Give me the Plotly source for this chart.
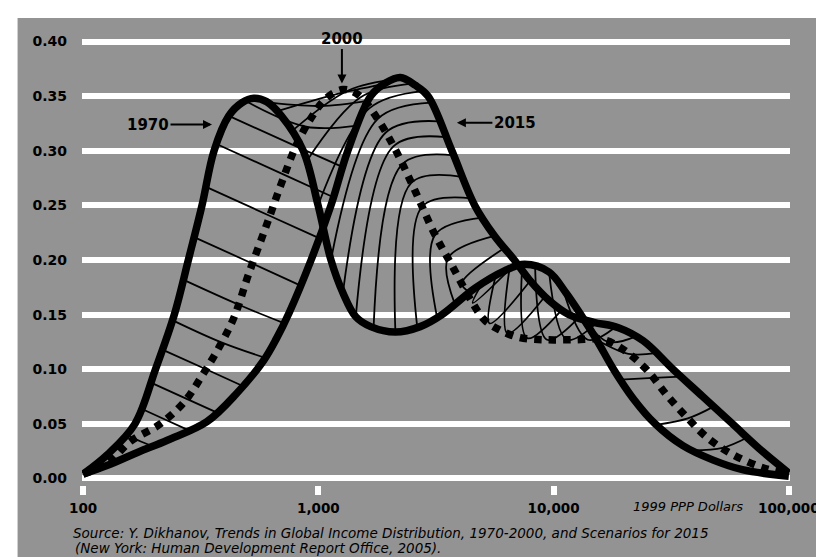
import numpy as np
import plotly.graph_objects as go

# ---------------- data (income in 1999 PPP dollars, share of population) -------------
inc_1970 = [100, 127, 166, 203, 244, 280, 320, 360, 416, 473, 531, 602, 696, 862, 997, 1131,
            1271, 1442, 1668, 2125, 2709, 3355, 4620, 6180, 7505, 9560, 11280, 13050, 15230,
            17970, 21820, 27010, 35440, 47430, 63440, 100000]
share_1970 = [0.004, 0.022, 0.05, 0.10, 0.15, 0.20, 0.25, 0.30, 0.332, 0.344, 0.348, 0.345,
              0.332, 0.30, 0.25, 0.20, 0.17, 0.148, 0.139, 0.134, 0.139, 0.15, 0.174, 0.19,
              0.196, 0.189, 0.17, 0.15, 0.127, 0.10, 0.073, 0.05, 0.03, 0.017, 0.008, 0.002]

inc_2000 = [100, 127, 159, 213, 269, 320, 378, 437, 505, 602, 696, 805, 931, 1078, 1271, 1484,
            1751, 2125, 2580, 3133, 3695, 4486, 5090, 5888, 7150, 9112, 12190, 16310, 19810,
            24750, 30640, 37210, 45180, 57580, 77060, 100000]
share_2000 = [0.004, 0.014, 0.034, 0.05, 0.07, 0.094, 0.12, 0.147, 0.187, 0.232, 0.27, 0.305,
              0.33, 0.348, 0.356, 0.351, 0.332, 0.301, 0.263, 0.223, 0.195, 0.162, 0.145, 0.136,
              0.129, 0.127, 0.127, 0.127, 0.118, 0.10, 0.075, 0.055, 0.037, 0.022, 0.01, 0.004]

inc_2015 = [100, 127, 171, 228, 336, 450, 585, 663, 752, 931, 1131, 1334, 1668, 1929, 2231, 2580,
            2928, 3695, 4620, 5610, 6810, 7877, 9560, 11610, 14800, 18860, 24040, 32170, 43040,
            57580, 77060, 100000]
share_2015 = [0.004, 0.012, 0.024, 0.035, 0.052, 0.078, 0.108, 0.128, 0.152, 0.20, 0.25, 0.30,
              0.35, 0.362, 0.367, 0.36, 0.35, 0.30, 0.25, 0.222, 0.20, 0.182, 0.163, 0.15, 0.143,
              0.138, 0.126, 0.10, 0.075, 0.05, 0.025, 0.005]

# thin trajectory lines: point on the 1970 curve -> 2000 curve -> 2015 curve
hatch_inc_1970 = [416, 371, 333, 296, 266, 239, 217, 193, 176, 152,
                  486, 573, 663, 767, 888, 997, 1131, 1271, 1442, 1717, 2125, 2632, 3195, 3805, 4401,
                  4944, 5664, 6488, 7359, 8348, 9563, 10954, 12671, 15237, 19232, 27271, 39057]
hatch_share_1970 = [0.332, 0.306, 0.267, 0.221, 0.182, 0.145, 0.118, 0.088, 0.064, 0.0407,
                    0.346, 0.345, 0.336, 0.3175, 0.29, 0.25, 0.20, 0.17, 0.148, 0.1384, 0.134,
                    0.1384, 0.1475, 0.1595, 0.1704,
                    0.1777, 0.1852, 0.1915, 0.1955, 0.193, 0.189, 0.1734, 0.154, 0.127, 0.0905,
                    0.049, 0.0257]
hatch_inc_2000 = [805, 717, 620, 526, 459, 387, 333, 274, 224, 164,
                  888, 1017, 1153, 1334, 1513, 1651, 1785, 1929, 2084, 2275, 2483, 2762, 3133, 3555, 4072,
                  4530, 5343, 6362, 7725, 9380, 11389, 13964, 16955, 20783, 26492, 37205, 52252]
hatch_share_2000 = [0.304, 0.278, 0.2405, 0.1966, 0.159, 0.1246, 0.100, 0.0731, 0.0537, 0.0368,
                    0.322, 0.341, 0.351, 0.355, 0.349, 0.339, 0.329, 0.3165, 0.304, 0.2877, 0.2706,
                    0.249, 0.223, 0.2016, 0.1785,
                    0.1607, 0.142, 0.133, 0.1284, 0.127, 0.127, 0.127, 0.1252, 0.1141, 0.092,
                    0.055, 0.028]
hatch_inc_2015 = [1271, 1159, 1007, 841, 717, 602, 477, 367, 280, 197,
                  1470, 1636, 1892, 2188, 2507, 2762, 3014, 3257, 3487, 3768, 4112, 4486, 4992, 5609, 6180,
                  6944, 7954, 9200, 10849, 12794, 15237, 18323, 22248, 27271, 34762, 47874, 66590]
hatch_share_2015 = [0.285, 0.2575, 0.22, 0.1765, 0.142, 0.110, 0.0846, 0.0607, 0.0443, 0.0295,
                    0.323, 0.346, 0.361, 0.366, 0.3614, 0.3546, 0.344, 0.327, 0.3125, 0.2957, 0.276,
                    0.2565, 0.2388, 0.222, 0.211,
                    0.1976, 0.181, 0.1668, 0.1546, 0.1472, 0.1424, 0.1386, 0.1298, 0.1147, 0.0933,
                    0.0658, 0.0375]

x_tick_vals = [100, 1000, 10000, 100000]
x_tick_text = ["100", "1,000", "10,000", "100,000"]
y_tick_vals = [0.0, 0.05, 0.10, 0.15, 0.20, 0.25, 0.30, 0.35, 0.40]
y_tick_text = ["0.00", "0.05", "0.10", "0.15", "0.20", "0.25", "0.30", "0.35", "0.40"]

year_labels = ["1970", "2000", "2015"]
label_income = [353, 1259, 3880]       # arrow tips
label_share = [0.324, 0.3615, 0.3257]
label_offsets = [(-64, 0), (0, -45), (58, 0)]

source_1 = "Source: Y. Dikhanov, Trends in Global Income Distribution, 1970-2000, and Scenarios for 2015"
source_2 = "(New York: Human Development Report Office, 2005)."
unit_label = "1999 PPP Dollars"

# ---------------- figure ----------------
BG = "#939393"
fig = go.Figure()

for i in range(len(hatch_inc_1970)):
    fig.add_trace(go.Scatter(
        x=[hatch_inc_1970[i], hatch_inc_2000[i], hatch_inc_2015[i]],
        y=[hatch_share_1970[i], hatch_share_2000[i], hatch_share_2015[i]],
        mode="lines", line=dict(color="black", width=1.8, shape="spline"),
        hoverinfo="skip", showlegend=False))

fig.add_trace(go.Scatter(x=inc_2000, y=share_2000, mode="lines", name="2000",
                         line=dict(color="black", width=7.5, dash="7.5px,7px", shape="spline")))
fig.add_trace(go.Scatter(x=inc_1970, y=share_1970, mode="lines", name="1970",
                         line=dict(color="black", width=7.5, shape="spline")))
fig.add_trace(go.Scatter(x=inc_2015, y=share_2015, mode="lines", name="2015",
                         line=dict(color="black", width=7.5, shape="spline")))

label_font = dict(family="DejaVu Sans", size=15, color="black", weight="bold")
for lab, inc, sh, (ax, ay) in zip(year_labels, label_income, label_share, label_offsets):
    fig.add_annotation(x=np.log10(inc), y=sh, xref="x", yref="y", text=lab,
                       showarrow=True, ax=ax, ay=ay, arrowhead=2, arrowsize=0.9,
                       arrowwidth=2, arrowcolor="black", font=label_font)

unit_font = dict(family="DejaVu Sans", size=13, color="black", style="italic")
src_font = dict(family="DejaVu Sans", size=13.5, color="black", style="italic")
fig.add_annotation(x=0.856, y=-0.047, xref="paper", yref="paper", text=unit_label,
                   showarrow=False, font=unit_font, xanchor="center", yanchor="middle")
fig.add_annotation(x=-0.016, y=-0.106, xref="paper", yref="paper", text=source_1,
                   showarrow=False, font=src_font, xanchor="left", yanchor="middle")
fig.add_annotation(x=-0.013, y=-0.140, xref="paper", yref="paper", text=source_2,
                   showarrow=False, font=src_font, xanchor="left", yanchor="middle")

# white scan margins (top and left edge)
fig.add_shape(type="rect", xref="paper", yref="paper", x0=-0.2, x1=1.2, y0=1.0378, y1=1.1,
              fillcolor="white", line_width=0, layer="above")
fig.add_shape(type="rect", xref="paper", yref="paper", x0=-0.2, x1=-0.0910, y0=-0.3, y1=1.1,
              fillcolor="white", line_width=0, layer="above")

tick_font = dict(family="DejaVu Sans", size=14, color="black", weight="bold")
xtick_font = dict(family="DejaVu Sans", size=13.5, color="black", weight="bold")
fig.update_layout(
    width=824, height=557,
    margin=dict(l=74, r=36, t=27, b=80),
    paper_bgcolor=BG, plot_bgcolor=BG,
    showlegend=False,
    xaxis=dict(type="log", range=[1.995, 5.005], tickvals=x_tick_vals, ticktext=x_tick_text,
               ticks="outside", ticklen=9, tickwidth=6, tickcolor="white",
               showgrid=False, zeroline=False, showline=False,
               tickfont=xtick_font, ticklabelstandoff=2),
    yaxis=dict(range=[-0.006, 0.406], tickvals=y_tick_vals, ticktext=y_tick_text,
               showgrid=True, gridcolor="white", gridwidth=6,
               zeroline=False, showline=False, ticks="",
               tickfont=tick_font, ticklabelstandoff=14),
)

fig.write_html("out.html")
